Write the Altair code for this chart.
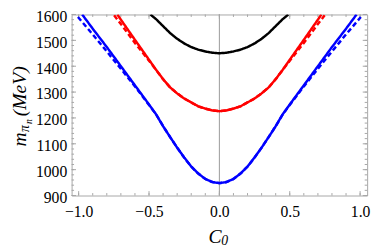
import altair as alt
import pandas as pd

# ---- data ----
blue_x = [-0.975, -0.9, -0.8, -0.7, -0.6, -0.5, -0.45, -0.4, -0.35, -0.3, -0.25, -0.2, -0.15, -0.1, -0.05, 0.0,
          0.05, 0.1, 0.15, 0.2, 0.25, 0.3, 0.35, 0.4, 0.45, 0.5, 0.6, 0.7, 0.8, 0.9, 0.975]
blue_m = [1600, 1545, 1474, 1400, 1326, 1252, 1214, 1168, 1126, 1085, 1047, 1012, 985, 964, 952, 948,
          952, 964, 985, 1012, 1047, 1085, 1126, 1168, 1214, 1252, 1326, 1400, 1474, 1545, 1600]

blue_dash_x = [-1.005, -0.9, -0.8, -0.7, -0.6, -0.5, -0.45, -0.4, -0.35, -0.3, -0.25, -0.2, -0.15, -0.1, -0.05, 0.0,
               0.05, 0.1, 0.15, 0.2, 0.25, 0.3, 0.35, 0.4, 0.45, 0.5, 0.6, 0.7, 0.8, 0.9, 1.005]
blue_dash_m = [1590, 1523, 1457, 1390, 1322, 1250, 1214, 1168, 1126, 1085, 1047, 1012, 985, 964, 952, 948,
               952, 964, 985, 1012, 1047, 1085, 1126, 1168, 1214, 1250, 1322, 1390, 1457, 1523, 1590]

red_x = [-0.725, -0.7, -0.6, -0.5, -0.45, -0.4, -0.35, -0.3, -0.25, -0.2, -0.15, -0.1, -0.05, 0.0,
         0.05, 0.1, 0.15, 0.2, 0.25, 0.3, 0.35, 0.4, 0.45, 0.5, 0.6, 0.7, 0.725]
red_m = [1600, 1580, 1502, 1425, 1386, 1350, 1318, 1295, 1275, 1260, 1245, 1236, 1229, 1226,
         1229, 1236, 1245, 1260, 1275, 1295, 1318, 1350, 1386, 1425, 1502, 1580, 1600]

red_dash_x = [-0.748, -0.7, -0.6, -0.5, -0.45, -0.4, -0.35, -0.3, -0.25, -0.2, -0.15, -0.1, -0.05, 0.0,
              0.05, 0.1, 0.15, 0.2, 0.25, 0.3, 0.35, 0.4, 0.45, 0.5, 0.6, 0.7, 0.748]
red_dash_m = [1597, 1563, 1490, 1421, 1386, 1350, 1318, 1295, 1275, 1260, 1245, 1236, 1229, 1226,
              1229, 1236, 1245, 1260, 1275, 1295, 1318, 1350, 1386, 1421, 1490, 1563, 1597]

black_x = [-0.49, -0.45, -0.4, -0.35, -0.3, -0.25, -0.2, -0.15, -0.1, -0.05, 0.0,
           0.05, 0.1, 0.15, 0.2, 0.25, 0.3, 0.35, 0.4, 0.45, 0.49]
black_m = [1600, 1582, 1555, 1528, 1506, 1488, 1474, 1464, 1457, 1452, 1450,
           1452, 1457, 1464, 1474, 1488, 1506, 1528, 1555, 1582, 1600]

x_major = [-1.0, -0.5, 0.0, 0.5, 1.0]
x_minor = [-1.0, -0.9, -0.8, -0.7, -0.6, -0.5, -0.4, -0.3, -0.2, -0.1, 0.0,
           0.1, 0.2, 0.3, 0.4, 0.5, 0.6, 0.7, 0.8, 0.9, 1.0]
y_major = [900, 1000, 1100, 1200, 1300, 1400, 1500, 1600]
y_minor = [900, 920, 940, 960, 980, 1000, 1020, 1040, 1060, 1080, 1100, 1120, 1140, 1160, 1180,
           1200, 1220, 1240, 1260, 1280, 1300, 1320, 1340, 1360, 1380, 1400, 1420, 1440, 1460,
           1480, 1500, 1520, 1540, 1560, 1580, 1600]

W, H = 302, 185
FONT = "Liberation Serif"

rows = []
for name, style, xs, ms in [("blue", "solid", blue_x, blue_m),
                            ("blue", "dashed", blue_dash_x, blue_dash_m),
                            ("red", "solid", red_x, red_m),
                            ("red", "dashed", red_dash_x, red_dash_m),
                            ("black", "solid", black_x, black_m)]:
    for i, (a, b) in enumerate(zip(xs, ms)):
        rows.append({"C0": a, "m": b, "curve": name, "style": style, "key": name + style, "i": i})
df = pd.DataFrame(rows)

xscale = alt.Scale(domain=[-1.05, 1.05], nice=False, zero=False)
yscale = alt.Scale(domain=[900, 1600], nice=False, zero=False)

xaxis = alt.Axis(values=x_major, format=".1f", labelFont=FONT, labelFontSize=16, labelColor="black",
                 ticks=False, domain=False, grid=False, labelPadding=8, title=None, labelFlush=False)
yaxis = alt.Axis(values=y_major, format="d", labelFont=FONT, labelFontSize=16, labelColor="black",
                 ticks=False, domain=False, grid=False, labelPadding=5, labelOffset=2,
                 title=None, labelFlush=False)

zero = alt.Chart(pd.DataFrame({"v": [0.0]})).mark_rule(color="#9a9a9a", strokeWidth=1).encode(
    x=alt.X("v:Q", scale=xscale, axis=xaxis)
)

lines = alt.Chart(df).mark_line(strokeWidth=2.5, clip=True).encode(
    x=alt.X("C0:Q", scale=xscale, axis=xaxis),
    y=alt.Y("m:Q", scale=yscale, axis=yaxis),
    color=alt.Color("curve:N", scale=alt.Scale(domain=["blue", "red", "black"],
                                               range=["#0000ff", "#ff0000", "#000000"]), legend=None),
    strokeDash=alt.StrokeDash("style:N", scale=alt.Scale(domain=["solid", "dashed"],
                                                         range=[[1, 0], [5, 3]]), legend=None),
    detail="key:N",
    order="i:Q",
)

TC = "#a6a6a6"
def xticks(vals, length):
    d = pd.DataFrame({"v": vals})
    b = alt.Chart(d).mark_rule(color=TC, strokeWidth=1).encode(
        x=alt.X("v:Q", scale=xscale, axis=xaxis), y=alt.value(H), y2=alt.value(H - length))
    t = alt.Chart(d).mark_rule(color=TC, strokeWidth=1).encode(
        x=alt.X("v:Q", scale=xscale, axis=xaxis), y=alt.value(0), y2=alt.value(length))
    return [b, t]

def yticks(vals, length):
    d = pd.DataFrame({"v": vals})
    l = alt.Chart(d).mark_rule(color=TC, strokeWidth=1).encode(
        y=alt.Y("v:Q", scale=yscale, axis=yaxis), x=alt.value(0), x2=alt.value(length))
    r = alt.Chart(d).mark_rule(color=TC, strokeWidth=1).encode(
        y=alt.Y("v:Q", scale=yscale, axis=yaxis), x=alt.value(W), x2=alt.value(W - length))
    return [l, r]

ticks = xticks(x_minor, 2.5) + xticks(x_major, 4.5) + yticks(y_minor, 2.5) + yticks(y_major, 4.5)

def label(txt, x, y, size, angle=0):
    return alt.Chart(pd.DataFrame({"t": [txt]})).mark_text(
        font=FONT, fontStyle="italic", fontSize=size, align="left", baseline="alphabetic",
        angle=angle, color="black").encode(text="t:N", x=alt.value(x), y=alt.value(y))

titles = [
    label("C", 140, 234, 20),
    label("0", 153, 236, 14),
    label("m", -47, 135, 20, 270),
    label("π", -44, 120, 14, 270),
    label("n", -40, 112, 10, 270),
    label("(MeV)", -47, 104, 20, 270),
]

chart = alt.layer(zero, *ticks, lines, *titles).properties(
    width=W, height=H,
    padding={"left": 65, "top": 4, "right": 7, "bottom": 51},
    autosize=alt.AutoSizeParams(type="none"),
).configure_view(stroke=TC, strokeWidth=1)

chart.save("out.html", embed_options={"renderer": "svg", "actions": False})
